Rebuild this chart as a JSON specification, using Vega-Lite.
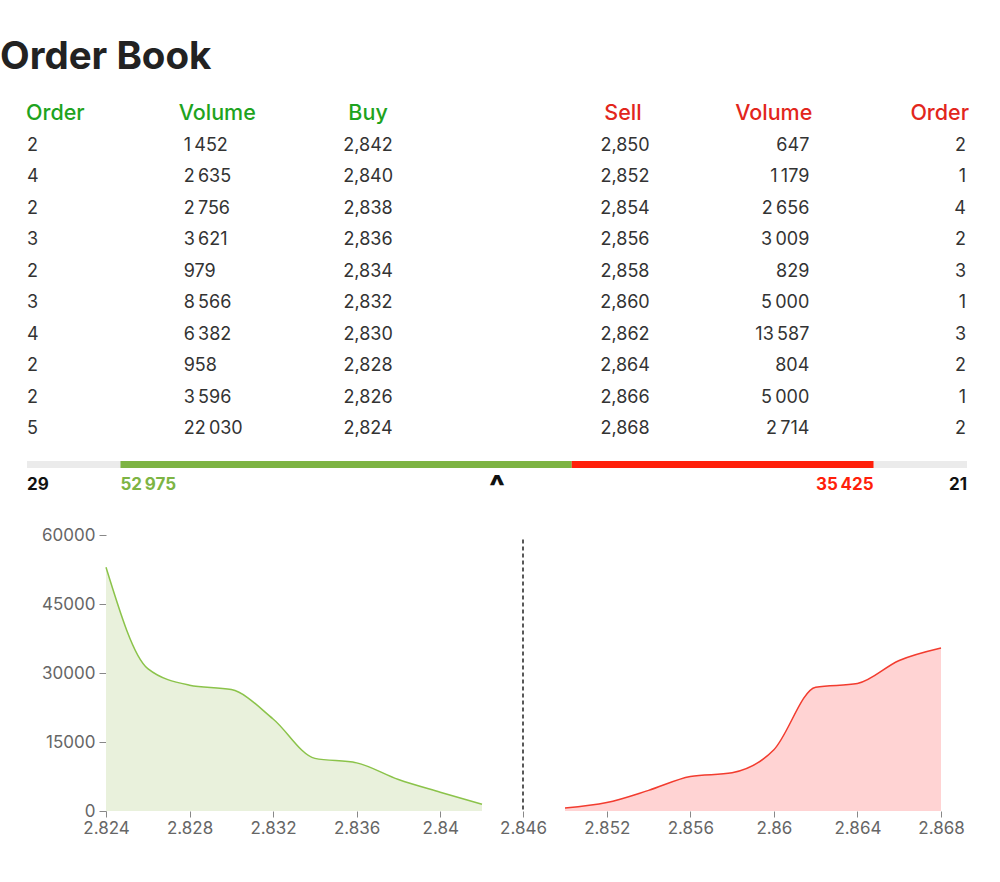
{
  "$schema": "https://vega.github.io/schema/vega-lite/v6.json",
  "padding": {"left": 0, "top": 38, "right": 5, "bottom": 5},
  "config": {
    "locale": {"number": {"decimal": ",", "thousands": "\u2009", "grouping": [3], "currency": ["", ""]}},
    "view": {"stroke": null},
    "font": "Inter"
  },
  "title": {"text": "Order Book", "anchor": "start", "frame": "group", "fontSize": 38.5, "font": "Inter", "fontWeight": "bold", "color": "#222222", "dx": -27, "offset": 25.5},
  "datasets": {
    "book": [
      {"level": 1, "buyOrder": 2, "buyVolume": 1452, "buyPrice": 2.842, "sellPrice": 2.850, "sellVolume": 647, "sellOrder": 2},
      {"level": 2, "buyOrder": 4, "buyVolume": 2635, "buyPrice": 2.840, "sellPrice": 2.852, "sellVolume": 1179, "sellOrder": 1},
      {"level": 3, "buyOrder": 2, "buyVolume": 2756, "buyPrice": 2.838, "sellPrice": 2.854, "sellVolume": 2656, "sellOrder": 4},
      {"level": 4, "buyOrder": 3, "buyVolume": 3621, "buyPrice": 2.836, "sellPrice": 2.856, "sellVolume": 3009, "sellOrder": 2},
      {"level": 5, "buyOrder": 2, "buyVolume": 979, "buyPrice": 2.834, "sellPrice": 2.858, "sellVolume": 829, "sellOrder": 3},
      {"level": 6, "buyOrder": 3, "buyVolume": 8566, "buyPrice": 2.832, "sellPrice": 2.860, "sellVolume": 5000, "sellOrder": 1},
      {"level": 7, "buyOrder": 4, "buyVolume": 6382, "buyPrice": 2.830, "sellPrice": 2.862, "sellVolume": 13587, "sellOrder": 3},
      {"level": 8, "buyOrder": 2, "buyVolume": 958, "buyPrice": 2.828, "sellPrice": 2.864, "sellVolume": 804, "sellOrder": 2},
      {"level": 9, "buyOrder": 2, "buyVolume": 3596, "buyPrice": 2.826, "sellPrice": 2.866, "sellVolume": 5000, "sellOrder": 1},
      {"level": 10, "buyOrder": 5, "buyVolume": 22030, "buyPrice": 2.824, "sellPrice": 2.868, "sellVolume": 2714, "sellOrder": 2}
    ],
    "headers": [
      {"col": "buyOrder", "label": "Order", "side": "buy", "level": 0},
      {"col": "buyVolume", "label": "Volume", "side": "buy", "level": 0},
      {"col": "buyPrice", "label": "Buy", "side": "buy", "level": 0},
      {"col": "sellPrice", "label": "Sell", "side": "sell", "level": 0},
      {"col": "sellVolume", "label": "Volume", "side": "sell", "level": 0},
      {"col": "sellOrder", "label": "Order", "side": "sell", "level": 0}
    ],
    "totals": [
      {"side": "buy", "volume": 52975, "orders": 29},
      {"side": "sell", "volume": 35425, "orders": 21}
    ],
    "depth": [
      {"side": "buy", "price": 2.824, "depth": 52975},
      {"side": "buy", "price": 2.826, "depth": 30945},
      {"side": "buy", "price": 2.828, "depth": 27349},
      {"side": "buy", "price": 2.830, "depth": 26391},
      {"side": "buy", "price": 2.832, "depth": 20009},
      {"side": "buy", "price": 2.834, "depth": 11443},
      {"side": "buy", "price": 2.836, "depth": 10464},
      {"side": "buy", "price": 2.838, "depth": 6843},
      {"side": "buy", "price": 2.840, "depth": 4087},
      {"side": "buy", "price": 2.842, "depth": 1452},
      {"side": "sell", "price": 2.850, "depth": 647},
      {"side": "sell", "price": 2.852, "depth": 1826},
      {"side": "sell", "price": 2.854, "depth": 4482},
      {"side": "sell", "price": 2.856, "depth": 7491},
      {"side": "sell", "price": 2.858, "depth": 8320},
      {"side": "sell", "price": 2.860, "depth": 13320},
      {"side": "sell", "price": 2.862, "depth": 26907},
      {"side": "sell", "price": 2.864, "depth": 27711},
      {"side": "sell", "price": 2.866, "depth": 32711},
      {"side": "sell", "price": 2.868, "depth": 35425}
    ]
  },
  "bounds": "flush",
  "spacing": 32,
  "resolve": {"scale": {"color": "independent"}},
  "vconcat": [
    {
      "width": 940,
      "height": 315,
      "data": {"name": "book"},
      "layer": [
        {
          "transform": [{"fold": ["buyOrder", "buyVolume"], "as": ["col", "val"]}],
          "mark": {"type": "text", "align": "left", "baseline": "middle", "fontSize": 18, "color": "#333333"},
          "encoding": {
            "x": {"field": "col", "type": "nominal", "bandPosition": 0, "scale": {"type": "band", "domain": ["buyOrder", "buyVolume", "buyPrice", "sellPrice", "sellVolume", "sellOrder"], "paddingInner": 0, "paddingOuter": 0}, "axis": null},
            "y": {"field": "level", "type": "ordinal", "scale": {"type": "point", "padding": 0, "domain": [0, 1, 2, 3, 4, 5, 6, 7, 8, 9, 10]}, "axis": null},
            "text": {"field": "val", "type": "quantitative", "format": ",d"}
          }
        },
        {
          "transform": [{"fold": ["buyPrice"], "as": ["col", "val"]}],
          "mark": {"type": "text", "align": "center", "baseline": "middle", "fontSize": 18, "color": "#333333"},
          "encoding": {
            "x": {"field": "col", "type": "nominal", "bandPosition": 0.177, "axis": null},
            "y": {"field": "level", "type": "ordinal", "axis": null},
            "text": {"field": "val", "type": "quantitative", "format": ".3f"}
          }
        },
        {
          "transform": [{"fold": ["sellPrice"], "as": ["col", "val"]}],
          "mark": {"type": "text", "align": "center", "baseline": "middle", "fontSize": 18, "color": "#333333"},
          "encoding": {
            "x": {"field": "col", "type": "nominal", "bandPosition": 0.817, "axis": null},
            "y": {"field": "level", "type": "ordinal", "axis": null},
            "text": {"field": "val", "type": "quantitative", "format": ".3f"}
          }
        },
        {
          "transform": [{"fold": ["sellVolume", "sellOrder"], "as": ["col", "val"]}],
          "mark": {"type": "text", "align": "right", "baseline": "middle", "fontSize": 18, "color": "#333333", "dx": -1},
          "encoding": {
            "x": {"field": "col", "type": "nominal", "bandPosition": 1, "axis": null},
            "y": {"field": "level", "type": "ordinal", "axis": null},
            "text": {"field": "val", "type": "quantitative", "format": ",d"}
          }
        },
        {
          "data": {"name": "headers"},
          "transform": [{"filter": {"field": "col", "oneOf": ["buyOrder"]}}],
          "mark": {"type": "text", "align": "left", "baseline": "middle", "fontSize": 21.5, "fontWeight": 500, "dx": -1},
          "encoding": {
            "x": {"field": "col", "type": "nominal", "bandPosition": 0, "axis": null},
            "y": {"field": "level", "type": "ordinal", "axis": null},
            "text": {"field": "label", "type": "nominal"},
            "color": {"field": "side", "type": "nominal", "scale": {"domain": ["buy", "sell"], "range": ["#1ea320", "#e2261c"]}, "legend": null}
          }
        },
        {
          "data": {"name": "headers"},
          "transform": [{"filter": {"field": "col", "oneOf": ["buyVolume"]}}],
          "mark": {"type": "text", "align": "left", "baseline": "middle", "fontSize": 21.5, "fontWeight": 500, "dx": -5},
          "encoding": {
            "x": {"field": "col", "type": "nominal", "bandPosition": 0, "axis": null},
            "y": {"field": "level", "type": "ordinal", "axis": null},
            "text": {"field": "label", "type": "nominal"},
            "color": {"field": "side", "type": "nominal", "legend": null}
          }
        },
        {
          "data": {"name": "headers"},
          "transform": [{"filter": {"field": "col", "oneOf": ["buyPrice"]}}],
          "mark": {"type": "text", "align": "center", "baseline": "middle", "fontSize": 21.5, "fontWeight": 500},
          "encoding": {
            "x": {"field": "col", "type": "nominal", "bandPosition": 0.177, "axis": null},
            "y": {"field": "level", "type": "ordinal", "axis": null},
            "text": {"field": "label", "type": "nominal"},
            "color": {"field": "side", "type": "nominal", "legend": null}
          }
        },
        {
          "data": {"name": "headers"},
          "transform": [{"filter": {"field": "col", "oneOf": ["sellPrice"]}}],
          "mark": {"type": "text", "align": "center", "baseline": "middle", "fontSize": 21.5, "fontWeight": 500, "dx": -2},
          "encoding": {
            "x": {"field": "col", "type": "nominal", "bandPosition": 0.817, "axis": null},
            "y": {"field": "level", "type": "ordinal", "axis": null},
            "text": {"field": "label", "type": "nominal"},
            "color": {"field": "side", "type": "nominal", "legend": null}
          }
        },
        {
          "data": {"name": "headers"},
          "transform": [{"filter": {"field": "col", "oneOf": ["sellVolume", "sellOrder"]}}],
          "mark": {"type": "text", "align": "right", "baseline": "middle", "fontSize": 21.5, "fontWeight": 500, "dx": 2},
          "encoding": {
            "x": {"field": "col", "type": "nominal", "bandPosition": 1, "axis": null},
            "y": {"field": "level", "type": "ordinal", "axis": null},
            "text": {"field": "label", "type": "nominal"},
            "color": {"field": "side", "type": "nominal", "legend": null}
          }
        }
      ]
    },
    {
      "bounds": "flush",
      "spacing": 67,
      "resolve": {"scale": {"color": "independent"}},
      "vconcat": [
        {
          "width": 940,
          "height": 7,
          "view": {"fill": "#ebebeb", "stroke": null},
          "data": {"name": "totals"},
          "layer": [
            {
              "mark": {"type": "bar"},
              "encoding": {
                "x": {"field": "volume", "type": "quantitative", "stack": "zero", "scale": {"domain": [-10976, 99376], "nice": false, "zero": false}, "axis": null},
                "y": {"datum": "total", "type": "nominal", "scale": {"type": "band", "paddingInner": 0, "paddingOuter": 0}, "axis": null},
                "color": {"field": "side", "type": "nominal", "scale": {"domain": ["buy", "sell"], "range": ["#7db443", "#ff1f0a"]}, "legend": null},
                "order": {"field": "side", "sort": "ascending"}
              }
            },
            {
              "transform": [
                {"stack": "volume", "groupby": [], "sort": [{"field": "side", "order": "ascending"}], "as": ["v0", "v1"]},
                {"filter": "datum.side === 'buy'"}
              ],
              "mark": {"type": "text", "align": "left", "baseline": "middle", "dy": 20, "fontSize": 17, "fontWeight": "bold"},
              "encoding": {
                "x": {"field": "v0", "type": "quantitative", "stack": null},
                "y": {"datum": "total", "type": "nominal"},
                "text": {"field": "volume", "type": "quantitative", "format": ",d"},
                "color": {"field": "side", "type": "nominal", "legend": null}
              }
            },
            {
              "transform": [
                {"stack": "volume", "groupby": [], "sort": [{"field": "side", "order": "ascending"}], "as": ["v0", "v1"]},
                {"filter": "datum.side === 'sell'"}
              ],
              "mark": {"type": "text", "align": "right", "baseline": "middle", "dy": 20, "fontSize": 17, "fontWeight": "bold"},
              "encoding": {
                "x": {"field": "v1", "type": "quantitative", "stack": null},
                "y": {"datum": "total", "type": "nominal"},
                "text": {"field": "volume", "type": "quantitative", "format": ",d"},
                "color": {"field": "side", "type": "nominal", "legend": null}
              }
            },
            {
              "transform": [{"filter": "datum.side === 'buy'"}],
              "mark": {"type": "text", "align": "left", "baseline": "middle", "dy": 20, "fontSize": 17, "fontWeight": "bold", "color": "#111111"},
              "encoding": {
                "x": {"datum": -10976},
                "y": {"datum": "total", "type": "nominal"},
                "text": {"field": "orders", "type": "quantitative"}
              }
            },
            {
              "transform": [{"filter": "datum.side === 'sell'"}],
              "mark": {"type": "text", "align": "right", "baseline": "middle", "dy": 20, "fontSize": 17, "fontWeight": "bold", "color": "#111111"},
              "encoding": {
                "x": {"datum": 99376},
                "y": {"datum": "total", "type": "nominal"},
                "text": {"field": "orders", "type": "quantitative"}
              }
            },
            {
              "transform": [{"filter": "datum.side === 'buy'"}],
              "mark": {"type": "text", "text": "^", "align": "center", "baseline": "middle", "dy": 23, "fontSize": 32, "fontWeight": 900, "color": "#111111"},
              "encoding": {
                "x": {"datum": 44200},
                "y": {"datum": "total", "type": "nominal"}
              }
            }
          ]
        },
        {
          "width": 940,
          "height": 276,
          "data": {"name": "depth"},
          "layer": [
            {
              "mark": {"type": "area", "interpolate": "monotone"},
              "encoding": {
                "x": {"field": "price", "type": "quantitative", "scale": {"domain": [2.824, 2.842, 2.846, 2.85, 2.868], "range": [79, 455, 496, 538, 914], "nice": false, "zero": false},
                  "axis": {"values": [2.824, 2.828, 2.832, 2.836, 2.84, 2.846, 2.852, 2.856, 2.86, 2.864, 2.868], "format": "~g", "labelExpr": "replace(datum.label, ',', '.')", "domain": false, "grid": false, "tickSize": 6, "tickColor": "#888888", "labelColor": "#666666", "labelFontSize": 17, "labelFont": "Inter", "labelPadding": 3, "labelFlush": false, "title": null}},
                "y": {"field": "depth", "type": "quantitative", "stack": null, "scale": {"domain": [0, 60000], "nice": false},
                  "axis": {"values": [0, 15000, 30000, 45000, 60000], "format": "d", "offset": -79, "domain": false, "grid": false, "tickSize": 7, "tickColor": "#888888", "labelColor": "#666666", "labelFontSize": 17, "labelFont": "Inter", "labelPadding": 4, "labelFlush": false, "title": null}},
                "fill": {"field": "side", "type": "nominal", "scale": {"domain": ["buy", "sell"], "range": ["#e9f1dc", "#ffd3d3"]}, "legend": null}
              }
            },
            {
              "mark": {"type": "line", "interpolate": "monotone", "strokeWidth": 1.5},
              "encoding": {
                "x": {"field": "price", "type": "quantitative"},
                "y": {"field": "depth", "type": "quantitative"},
                "stroke": {"field": "side", "type": "nominal", "scale": {"domain": ["buy", "sell"], "range": ["#8bc34a", "#f23c2f"]}, "legend": null}
              }
            },
            {
              "data": {"values": [{"mid": 2.846}]},
              "mark": {"type": "rule", "strokeDash": [4, 3], "color": "#222222", "strokeWidth": 1.5},
              "encoding": {
                "x": {"field": "mid", "type": "quantitative"},
                "y": {"datum": 59000},
                "y2": {"datum": 0}
              }
            }
          ]
        }
      ]
    }
  ]
}
